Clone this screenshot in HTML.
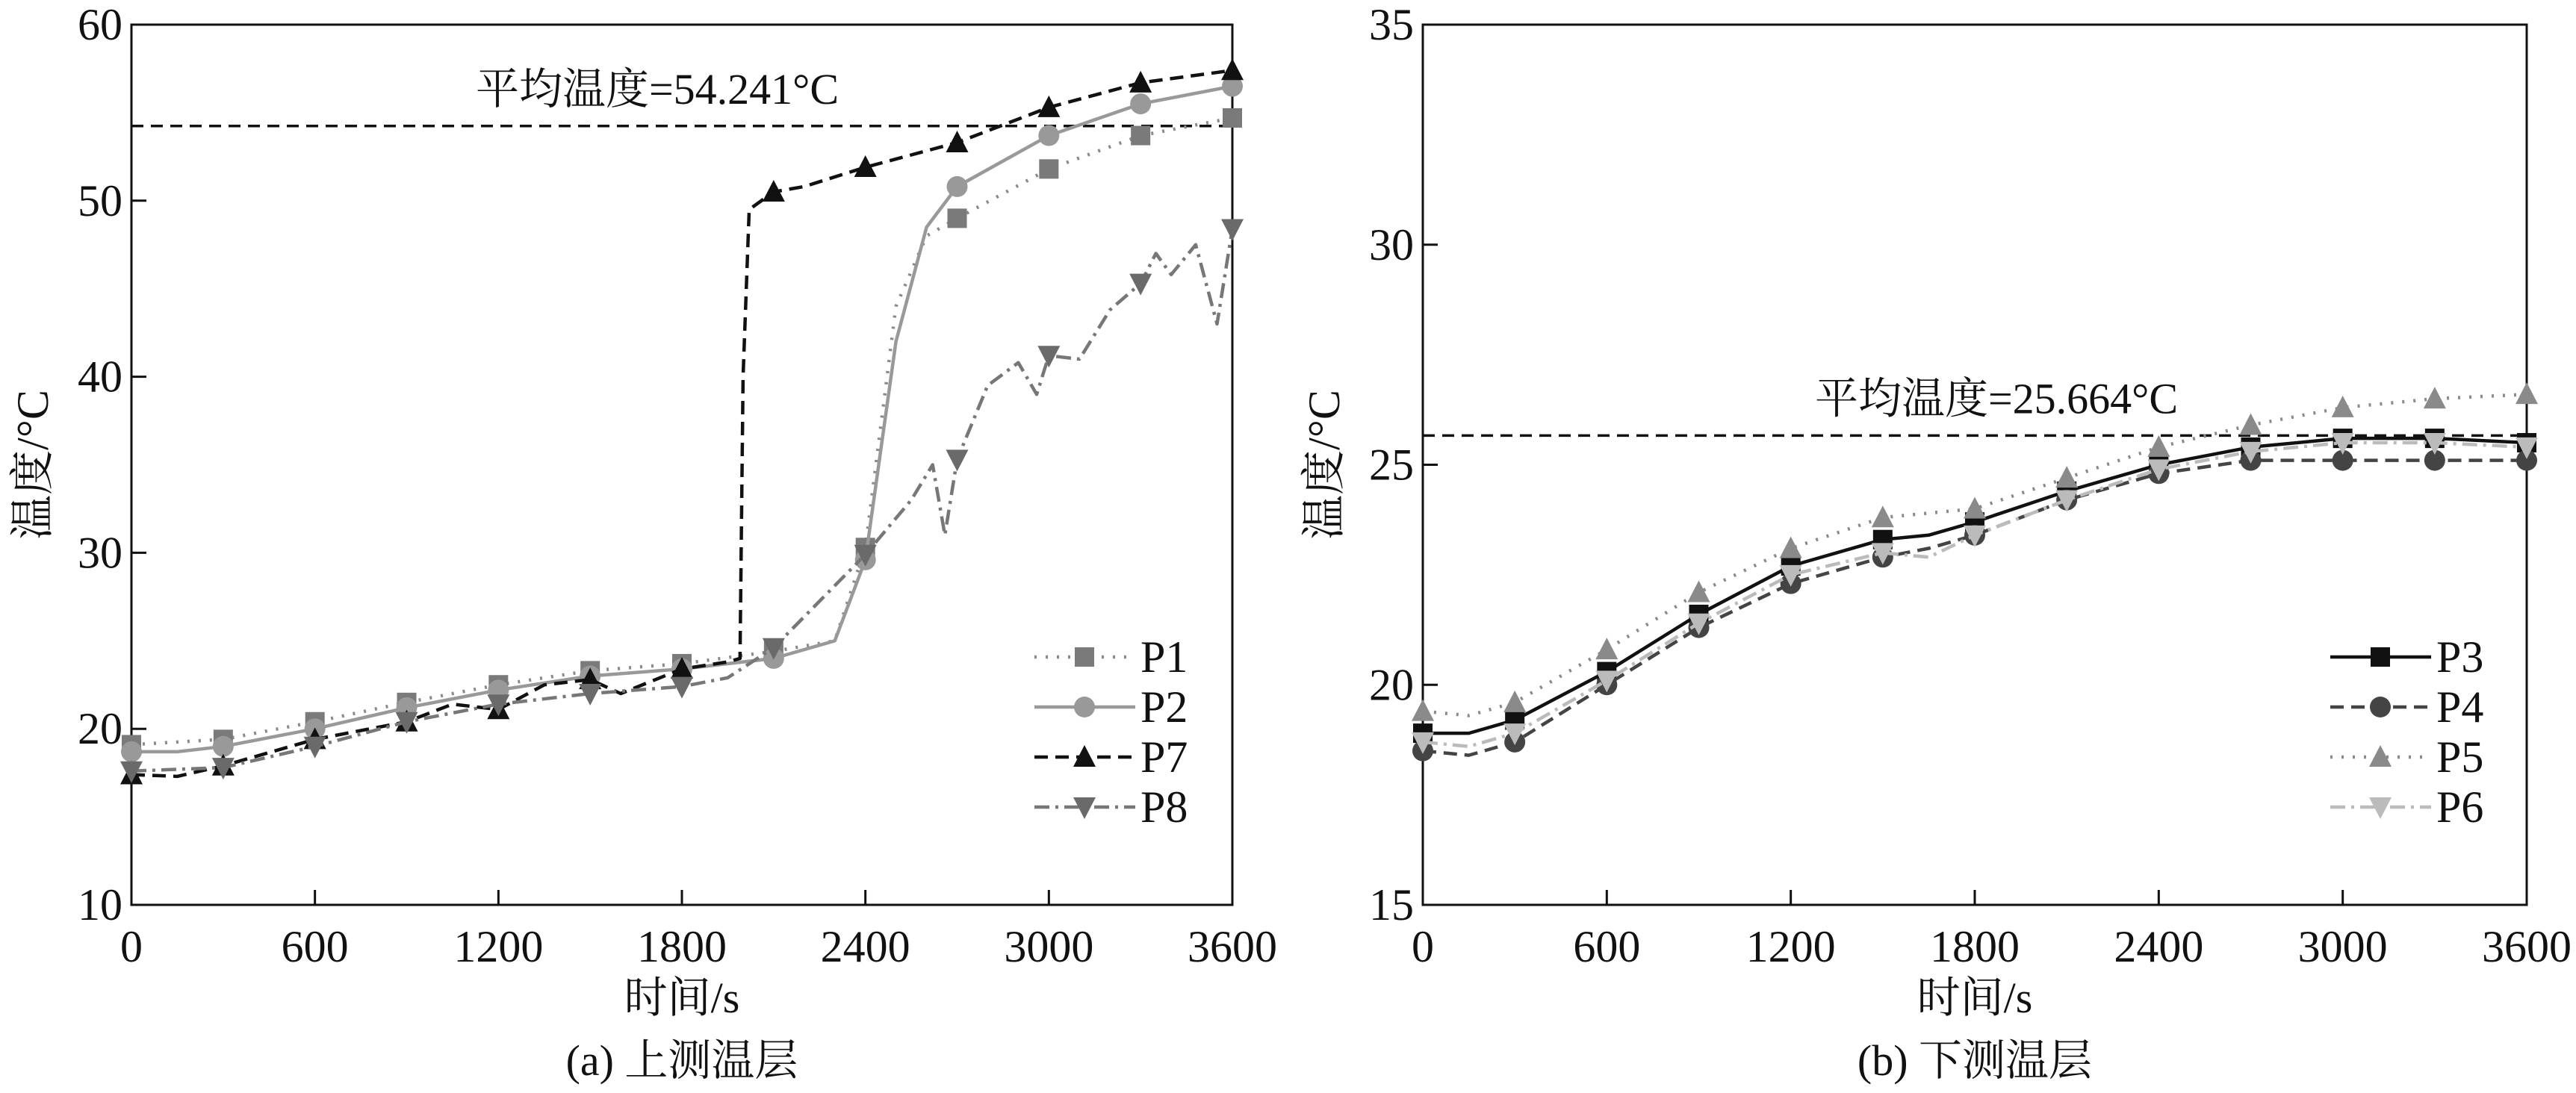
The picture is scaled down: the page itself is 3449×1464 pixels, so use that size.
<!DOCTYPE html>
<html><head><meta charset="utf-8"><style>
html,body{margin:0;padding:0;background:#fff}
svg, svg text{font-family:"Liberation Serif","Noto Serif CJK SC",serif}
svg{display:block}
</style></head><body>
<svg id="fig" width="3449" height="1464" viewBox="0 0 3449 1464" xmlns="http://www.w3.org/2000/svg"></svg>
<script>
// ---- data: panel (a) ----
const timesA1 = [0,300,600,900,1200,1500,1800,2100,2300,2400,2500,2600,2700,3000,3300,3600];
const valsP1 = [19.1,19.4,20.4,21.5,22.5,23.3,23.7,24.4,25.0,30.3,44.0,48.0,49.0,51.8,53.7,54.7];
const timesA2 = [0,150,300,600,900,1200,1500,1800,2100,2300,2400,2500,2600,2700,3000,3300,3600];
const valsP2 = [18.7,18.7,19.0,20.0,21.2,22.2,23.0,23.4,24.0,25.0,29.6,42.0,48.5,50.8,53.7,55.5,56.5];
const timesA7 = [0,150,300,600,900,1050,1200,1350,1500,1600,1800,1950,1990,2000,2020,2100,2200,2400,2700,2850,3000,3300,3600];
const valsP7 = [17.4,17.3,17.9,19.4,20.4,21.4,21.1,22.5,22.8,22.0,23.4,23.8,24.0,40.0,49.5,50.5,50.8,51.9,53.3,54.3,55.3,56.7,57.4];
const timesA8 = [0,300,600,900,1200,1500,1800,1950,2100,2400,2550,2620,2660,2700,2800,2900,2960,3000,3100,3200,3300,3350,3400,3480,3550,3600];
const valsP8 = [17.6,17.8,19.0,20.4,21.4,22.0,22.4,22.9,24.6,29.9,33.0,35.0,31.0,35.3,39.5,40.8,39.0,41.2,41.0,43.8,45.3,47.0,45.8,47.5,43.0,48.4];
const avgA = 54.241;
// ---- data: panel (b) ----
const timesB = [0,150,300,600,900,1200,1500,1650,1800,2100,2400,2700,3000,3300,3600];
const valsP3 = [18.9,18.9,19.2,20.3,21.6,22.7,23.3,23.4,23.7,24.4,25.0,25.4,25.6,25.6,25.5];
const valsP4 = [18.5,18.4,18.7,20.0,21.3,22.3,22.9,23.1,23.4,24.2,24.8,25.1,25.1,25.1,25.1];
const valsP5 = [19.4,19.3,19.6,20.8,22.1,23.1,23.8,23.9,24.0,24.7,25.4,25.9,26.3,26.5,26.6];
const valsP6 = [18.7,18.6,18.9,20.1,21.4,22.5,23.0,22.9,23.4,24.2,24.9,25.3,25.5,25.5,25.4];
const avgB = 25.664;
const xTicks = [0,600,1200,1800,2400,3000,3600];
const yTicksA = [10,20,30,40,50,60];
const yTicksB = [15,20,25,30,35];

const NS="http://www.w3.org/2000/svg";
const FF='"Liberation Serif","Noto Serif CJK SC",serif';
const svg=document.getElementById('fig');
function mk(tag,attrs,parent){const e=document.createElementNS(NS,tag);for(const k in attrs)e.setAttribute(k,attrs[k]);if(tag==='text')e.setAttribute('font-family',FF);(parent||svg).appendChild(e);return e;}

function panel(cfg){
  const g=mk('g',{});
  
  
  const L=cfg.x0,R=cfg.x1,T=33,B=1212;
  const sx=v=>L+(v-0)/3600*(R-L);
  const sy=v=>B-(v-cfg.ymin)/(cfg.ymax-cfg.ymin)*(B-T);
  const frame=mk('rect',{x:L,y:T,width:R-L,height:B-T,fill:'none',stroke:'#111','stroke-width':3},g);
  
  
  xTicks.forEach(t=>{
    mk('line',{x1:sx(t),x2:sx(t),y1:B,y2:B-20,stroke:'#111','stroke-width':3},g);
    const tx=mk('text',{x:sx(t),y:1288,'font-size':60,'text-anchor':'middle',fill:'#111'},g);
    tx.textContent=t;
    
    
  });
  cfg.yt.forEach(t=>{
    mk('line',{x1:L,x2:L+20,y1:sy(t),y2:sy(t),stroke:'#111','stroke-width':3},g);
    const tx=mk('text',{x:L-12,y:sy(t)+20,'font-size':60,'text-anchor':'end',fill:'#111'},g);
    tx.textContent=t;
    
    
  });
  const xt=mk('text',{x:(L+R)/2,y:1356,'font-size':58,'text-anchor':'middle',fill:'#111'},g);
  xt.textContent='时间/s';
  
  
  const yt=mk('text',{x:0,y:0,'font-size':60,'text-anchor':'middle',fill:'#111',transform:`translate(${L-112},${(T+B)/2}) rotate(-90)`},g);
  yt.textContent='温度/°C';
  
  
  const cap=mk('text',{x:(L+R)/2,y:1440,'font-size':58,'text-anchor':'middle',fill:'#111'},g);
  cap.textContent=cfg.caption;
  
  
  const al=mk('line',{x1:L,x2:R,y1:sy(cfg.avg),y2:sy(cfg.avg),stroke:'#111','stroke-width':3.5,'stroke-dasharray':'16 10'},g);
  
  
  const at=mk('text',{x:cfg.avgX,y:sy(cfg.avg)-30,'font-size':58,'text-anchor':'middle',fill:'#111'},g);
  at.textContent='平均温度='+cfg.avg+'°C';
  
  
  cfg.series.forEach((s,i)=>{
    const sg=mk('g',{},g);
    
    
    const pts=s.t.map((t,j)=>sx(t).toFixed(1)+','+sy(s.v[j]).toFixed(1)).join(' ');
    mk('polyline',{points:pts,fill:'none',stroke:s.color,'stroke-width':4.5,'stroke-dasharray':s.dash,'stroke-linejoin':'round'},sg);
    s.t.forEach((t,j)=>{ if(t%300===0) marker(sg,s.m,sx(t),sy(s.v[j]),s.mc); });
    const ly=cfg.legY+i*67;
    const lg=mk('g',{},g);
    
    
    mk('line',{x1:cfg.legX,x2:cfg.legX+135,y1:ly,y2:ly,stroke:s.color,'stroke-width':4.5,'stroke-dasharray':s.dash},lg);
    marker(lg,s.m,cfg.legX+67,ly,s.mc);
    const lt=mk('text',{x:cfg.legX+142,y:ly+20,'font-size':60,fill:'#111'},lg);
    lt.textContent=s.label;
  });
}
function marker(g,type,x,y,c){
  const r=13;
  if(type==='sq') mk('rect',{x:x-r,y:y-r,width:2*r,height:2*r,fill:c},g);
  else if(type==='ci') mk('circle',{cx:x,cy:y,r:r+1,fill:c},g);
  else if(type==='up') mk('polygon',{points:`${x},${y-r-3} ${x-r-2},${y+r} ${x+r+2},${y+r}`,fill:c},g);
  else mk('polygon',{points:`${x},${y+r+3} ${x-r-2},${y-r} ${x+r+2},${y-r}`,fill:c},g);
}
panel({name:'panel-a-upper-layer',x0:176,x1:1650,ymin:10,ymax:60,yt:yTicksA,avg:avgA,avgX:880,caption:'(a) 上测温层',
  legX:1385,legY:880,
  series:[
    {label:'P1',t:timesA1,v:valsP1,color:'#8a8a8a',mc:'#7a7a7a',dash:'3 12',m:'sq'},
    {label:'P2',t:timesA2,v:valsP2,color:'#999',mc:'#999',dash:'none',m:'ci'},
    {label:'P7',t:timesA7,v:valsP7,color:'#111',mc:'#111',dash:'18 10',m:'up'},
    {label:'P8',t:timesA8,v:valsP8,color:'#777',mc:'#6a6a6a',dash:'20 8 4 8',m:'dn'}
  ]});
panel({name:'panel-b-lower-layer',x0:1905,x1:3383,ymin:15,ymax:35,yt:yTicksB,avg:avgB,avgX:2673,caption:'(b) 下测温层',
  legX:3120,legY:880,
  series:[
    {label:'P3',t:timesB,v:valsP3,color:'#111',mc:'#111',dash:'none',m:'sq'},
    {label:'P4',t:timesB,v:valsP4,color:'#444',mc:'#444',dash:'18 10',m:'ci'},
    {label:'P5',t:timesB,v:valsP5,color:'#8a8a8a',mc:'#8a8a8a',dash:'3 12',m:'up'},
    {label:'P6',t:timesB,v:valsP6,color:'#bbb',mc:'#bbb',dash:'20 8 4 8',m:'dn'}
  ]});
</script>
</body></html>
